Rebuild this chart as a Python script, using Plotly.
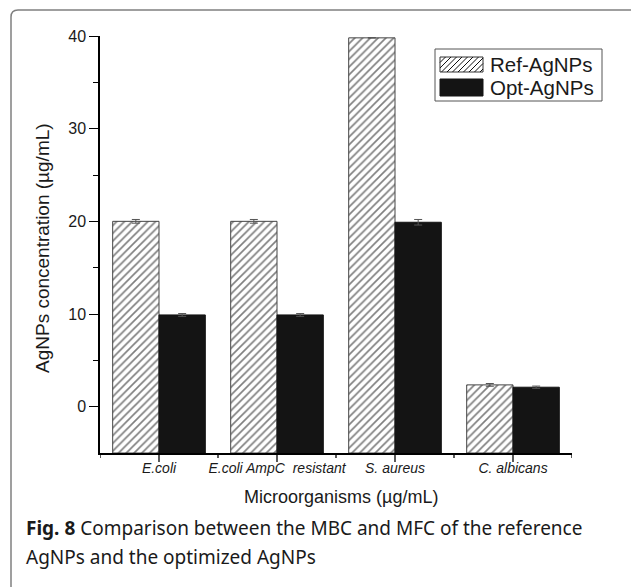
import plotly.graph_objects as go

# ---- data ----
categories = ["E.coli", "E.coli AmpC  resistant", "S. aureus", "C. albicans"]
ref_values = [20.0, 20.0, 39.8, 2.35]
ref_errors = [0.2, 0.2, 0.0, 0.15]
opt_values = [9.9, 9.9, 19.9, 2.1]
opt_errors = [0.15, 0.15, 0.3, 0.12]
y_ticks = [0, 10, 20, 30, 40]
y_min, y_max = -5, 40

# ---- layout geometry (pixels) ----
W_FIG, H_FIG = 631, 587
L, R, T, B = 100, 59, 36, 134
PW, PH = W_FIG - L - R, H_FIG - T - B


def fx(x):
    return (x - L) / PW


def fy(y):
    return 1 - (y - T) / PH


AX = "Liberation Sans"
CAP = "Noto Sans"
TXT = "#1a1a1a"

fig = go.Figure()
fig.add_trace(go.Bar(
    x=categories, y=[v - y_min for v in ref_values], base=y_min,
    name="Ref-AgNPs",
    marker=dict(color="white", line=dict(color="#444444", width=1),
                pattern=dict(shape="/", fgcolor="#000000", bgcolor="white",
                             size=5.5, solidity=0.3)),
    error_y=dict(type="data", array=ref_errors, color="#555555",
                 thickness=1, width=4),
))
fig.add_trace(go.Bar(
    x=categories, y=[v - y_min for v in opt_values], base=y_min,
    name="Opt-AgNPs",
    marker=dict(color="#141414", line=dict(color="#141414", width=1)),
    error_y=dict(type="data", array=opt_errors, color="#555555",
                 thickness=1, width=4),
))

shapes = []
# outer rounded frame
r = 7
x0, y0 = fx(11), fy(10)
x1, y1 = fx(640), fy(600)
rx, ry = r / PW, r / PH
shapes.append(dict(
    type="path", xref="paper", yref="paper",
    path=f"M{x0},{y1} L{x0},{y0 - ry} Q{x0},{y0} {x0 + rx},{y0} L{x1},{y0}",
    line=dict(color="#808080", width=1.5), layer="below"))

# x ticks: minor at category boundaries, major at categories
for i in range(len(categories) + 1):
    shapes.append(dict(type="line", xref="x", yref="paper",
                       x0=i - 0.5, x1=i - 0.5, y0=0, y1=-5 / PH,
                       line=dict(color="black", width=1.3)))
for i in range(len(categories)):
    shapes.append(dict(type="line", xref="x", yref="paper",
                       x0=i, x1=i, y0=0, y1=-9 / PH,
                       line=dict(color="black", width=1.3)))

# custom legend
lx0, lx1, ly0, ly1 = 435, 602, 49, 101
shapes.append(dict(type="rect", xref="paper", yref="paper",
                   x0=fx(lx0), x1=fx(lx1), y0=fy(ly1), y1=fy(ly0),
                   line=dict(color="#555555", width=1), fillcolor="white"))
sx0, sx1 = 440, 483
# hatched swatch
hy0, hy1 = 57, 72
shapes.append(dict(type="rect", xref="paper", yref="paper",
                   x0=fx(sx0), x1=fx(sx1), y0=fy(hy1), y1=fy(hy0),
                   line=dict(color="#333333", width=1), fillcolor="white"))
step = 5.5
h = hy1 - hy0
segs = []
xs = sx0 - h
while xs < sx1:
    ax, ay, bx, by = xs, hy1, xs + h, hy0
    if ax < sx0:
        ay = hy1 - (sx0 - ax)
        ax = sx0
    if bx > sx1:
        by = hy0 + (bx - sx1)
        bx = sx1
    if bx > ax:
        segs.append(f"M{fx(ax)},{fy(ay)} L{fx(bx)},{fy(by)}")
    xs += step
shapes.append(dict(type="path", xref="paper", yref="paper", path=" ".join(segs),
                   line=dict(color="#111111", width=1)))
# solid swatch
shapes.append(dict(type="rect", xref="paper", yref="paper",
                   x0=fx(sx0), x1=fx(sx1), y0=fy(96), y1=fy(79),
                   line=dict(color="#141414", width=1), fillcolor="#141414"))

annotations = [
    dict(text="Ref-AgNPs", x=fx(488), y=fy(64.5), xref="paper", yref="paper",
         xanchor="left", yanchor="middle", showarrow=False,
         font=dict(family=AX, size=20.5, color=TXT)),
    dict(text="Opt-AgNPs", x=fx(488), y=fy(87.5), xref="paper", yref="paper",
         xanchor="left", yanchor="middle", showarrow=False,
         font=dict(family=AX, size=20.5, color=TXT)),
    dict(text="AgNPs concentration (µg/mL)", x=fx(43), y=fy(248),
         xref="paper", yref="paper", textangle=-90, showarrow=False,
         xanchor="center", yanchor="middle",
         font=dict(family=AX, size=19, color=TXT)),
    dict(text="Microorganisms (µg/mL)", x=fx(341), y=fy(497),
         xref="paper", yref="paper", showarrow=False,
         xanchor="center", yanchor="middle",
         font=dict(family=AX, size=18, color=TXT)),
    dict(text="<b>Fig. 8</b> Comparison between the MBC and MFC of the reference",
         x=fx(24), y=fy(528), xref="paper", yref="paper", showarrow=False,
         xanchor="left", yanchor="middle", align="left",
         font=dict(family=CAP, size=19, color=TXT)),
    dict(text="AgNPs and the optimized AgNPs",
         x=fx(24), y=fy(557), xref="paper", yref="paper", showarrow=False,
         xanchor="left", yanchor="middle", align="left",
         font=dict(family=CAP, size=19, color=TXT)),
]

fig.update_layout(
    width=W_FIG, height=H_FIG,
    margin=dict(l=L, r=R, t=T, b=B),
    paper_bgcolor="white", plot_bgcolor="white",
    showlegend=False,
    barmode="group", bargap=0.215, bargroupgap=0,
    shapes=shapes, annotations=annotations,
    xaxis=dict(
        range=[-0.5, len(categories) - 0.5],
        showline=True, linecolor="black", linewidth=1.5,
        ticks="outside", ticklen=1, tickwidth=0, tickcolor="rgba(0,0,0,0)",
        tickfont=dict(family=AX, size=14, color=TXT, style="italic"),
        showgrid=False, zeroline=False,
    ),
    yaxis=dict(
        range=[y_min, y_max],
        tickvals=y_ticks, ticktext=[str(v) for v in y_ticks],
        showline=True, linecolor="black", linewidth=1.5,
        ticks="outside", ticklen=9, tickwidth=1.3, tickcolor="black",
        tickfont=dict(family=AX, size=16, color=TXT),
        showgrid=False, zeroline=False,
        minor=dict(tickvals=[5, 15, 25, 35], ticks="outside", ticklen=5,
                   tickwidth=1.3, tickcolor="black", showgrid=False),
    ),
)

fig.write_html("out.html")
